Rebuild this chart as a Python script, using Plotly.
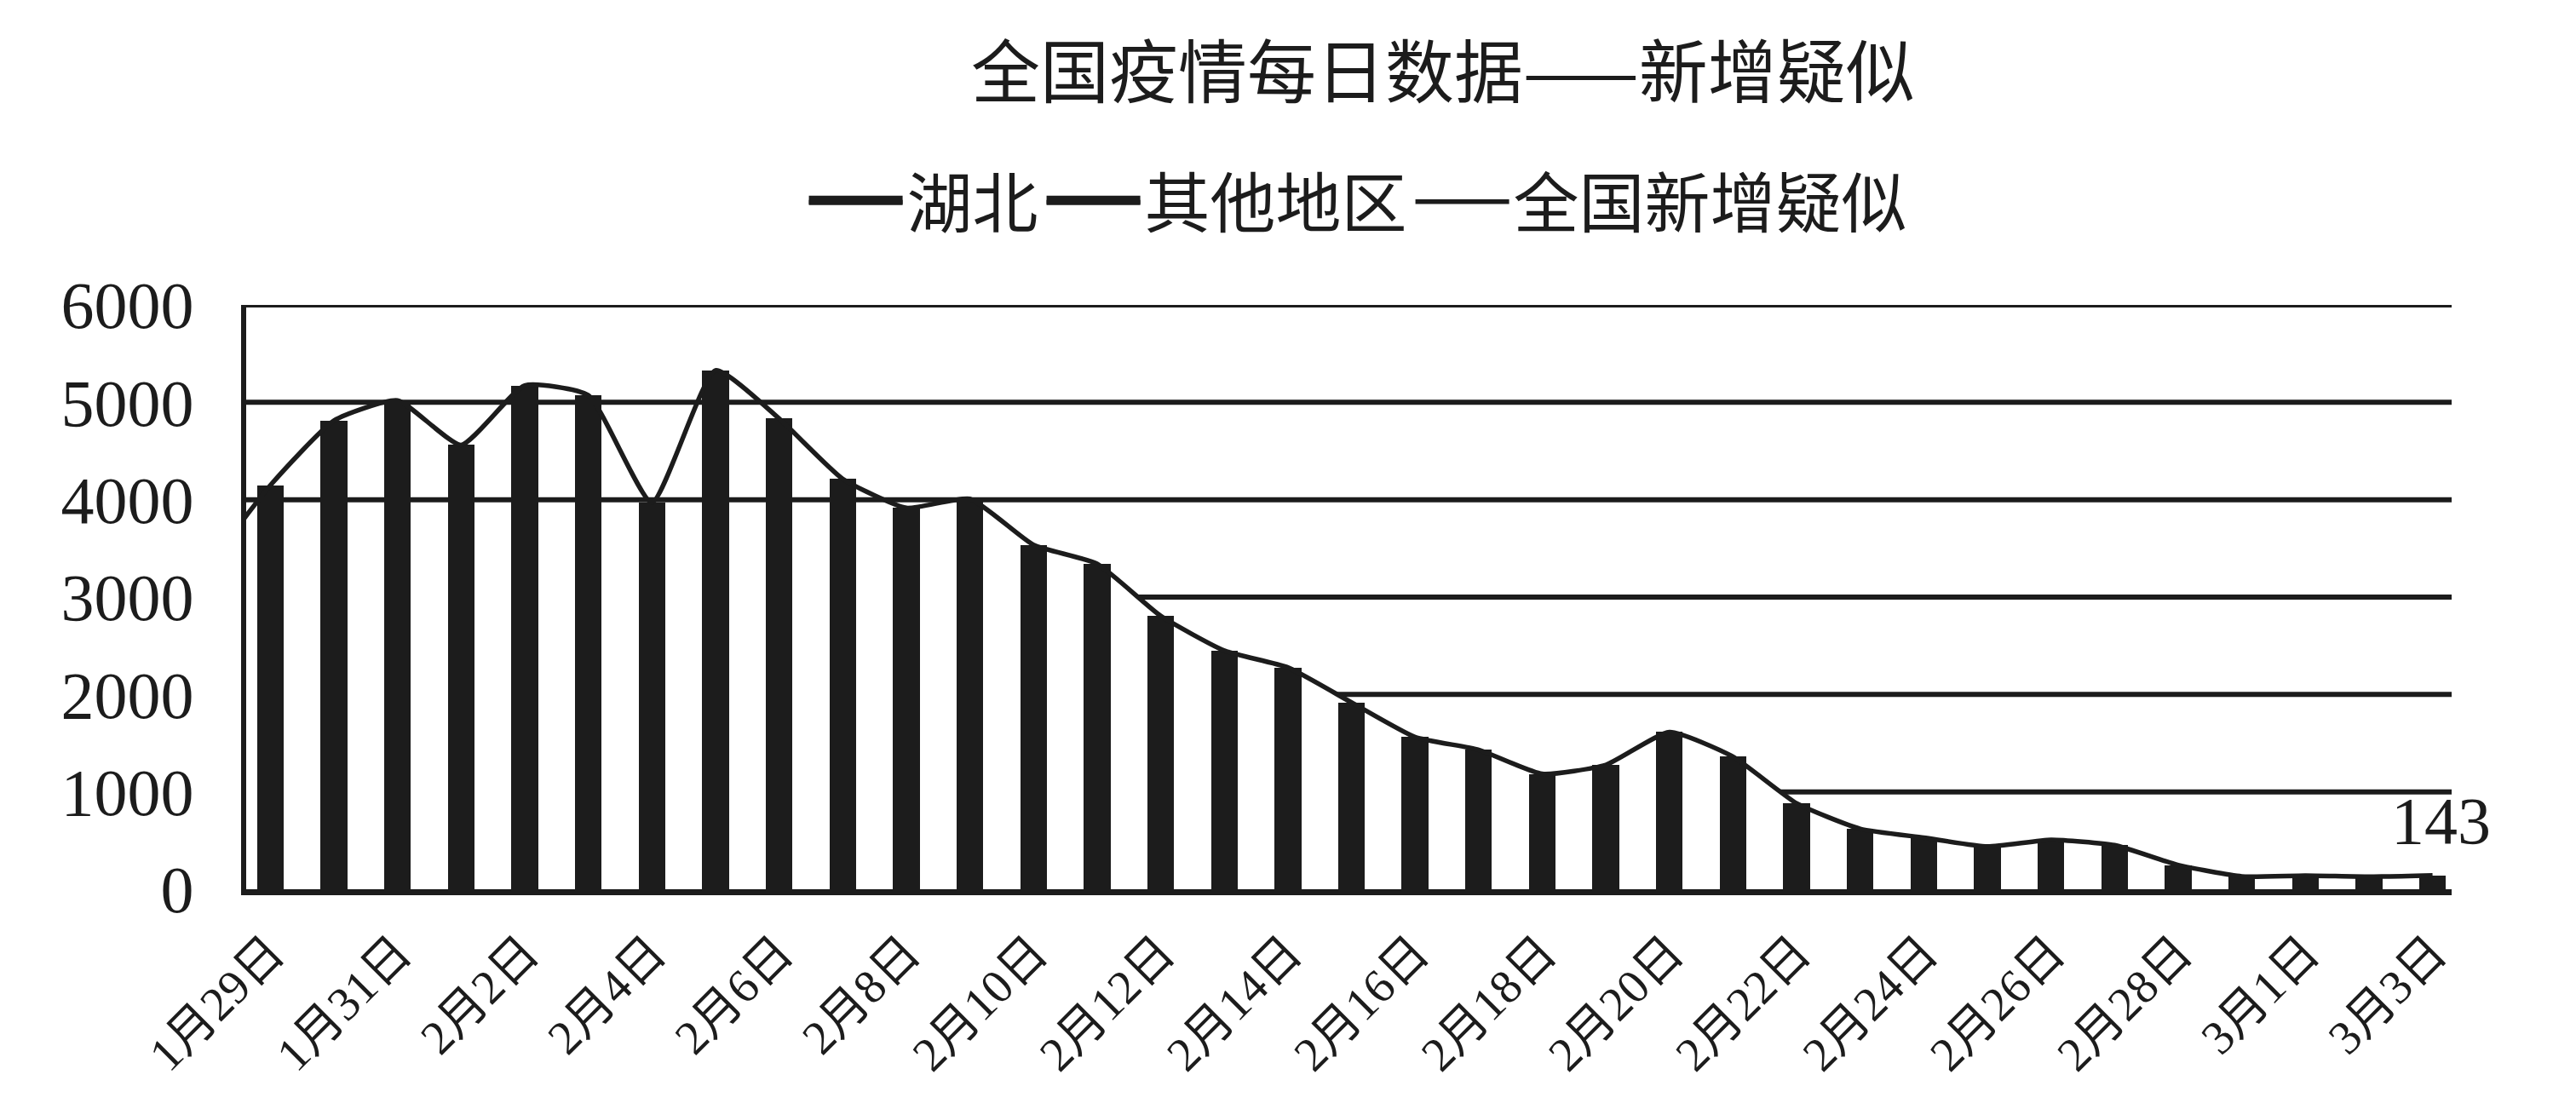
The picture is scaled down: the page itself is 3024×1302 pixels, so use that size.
import plotly.graph_objects as go

# ---------------- data ----------------
days = ["1月29日", "1月30日", "1月31日", "2月1日", "2月2日", "2月3日", "2月4日", "2月5日",
        "2月6日", "2月7日", "2月8日", "2月9日", "2月10日", "2月11日", "2月12日", "2月13日",
        "2月14日", "2月15日", "2月16日", "2月17日", "2月18日", "2月19日", "2月20日", "2月21日",
        "2月22日", "2月23日", "2月24日", "2月25日", "2月26日", "2月27日", "2月28日", "2月29日",
        "3月1日", "3月2日", "3月3日"]

tick_labels = ["1月29日", "1月31日", "2月2日", "2月4日", "2月6日", "2月8日", "2月10日",
               "2月12日", "2月14日", "2月16日", "2月18日", "2月20日", "2月22日", "2月24日",
               "2月26日", "2月28日", "3月1日", "3月3日"]

total = [4148, 4812, 5019, 4562, 5173, 5072, 3971, 5328, 4833, 4214, 3916, 4008, 3536, 3342,
         2807, 2450, 2277, 1918, 1563, 1432, 1185, 1277, 1614, 1361, 882, 620, 530, 439, 508,
         452, 248, 132, 141, 129, 143]

hubei = [2100, 2450, 2650, 2350, 2900, 2850, 2200, 3150, 2850, 2500, 2400, 2600, 2300, 2250,
         1900, 1700, 1650, 1400, 1150, 1050, 900, 1000, 1300, 1100, 700, 500, 430, 350, 420,
         380, 200, 100, 110, 100, 115]

others = [2048, 2362, 2369, 2212, 2273, 2222, 1771, 2178, 1983, 1714, 1516, 1408, 1236, 1092,
          907, 750, 627, 518, 413, 382, 285, 277, 314, 261, 182, 120, 100, 89, 88, 72, 48, 32,
          31, 29, 28]

# value of the day before the first category (line enters from the left edge)
prev_day_total = 3300

y_ticks = [0, 1000, 2000, 3000, 4000, 5000, 6000]
grid_below = [1000, 2000, 3000]
grid_above = [4000, 5000, 6000]

# ---------------- build ----------------
x_idx = list(range(len(days)))
line_x = [-1] + x_idx
line_y = [prev_day_total] + total
tickvals = [days.index(t) for t in tick_labels]
x_range = [-0.38, 34.3]

INK = "#1c1c1c"
SERIF = "Liberation Serif, Noto Sans CJK SC, serif"
SANS = "Noto Sans CJK SC, sans-serif"

fig = go.Figure()

# white area under the curve (hides the lower grid lines), on the base axes
fig.add_trace(go.Scatter(
    x=line_x, y=line_y, mode="lines", line=dict(width=0, shape="spline", smoothing=0.5),
    fill="tozeroy", fillcolor="white", showlegend=False, hoverinfo="skip",
    xaxis="x", yaxis="y"))

# stacked bars on the overlay axes
fig.add_trace(go.Bar(x=x_idx, y=hubei, name="湖北", marker=dict(color=INK, line=dict(width=0)),
                     width=0.42, showlegend=False, xaxis="x2", yaxis="y2"))
fig.add_trace(go.Bar(x=x_idx, y=others, name="其他地区", marker=dict(color=INK, line=dict(width=0)),
                     width=0.42, showlegend=False, xaxis="x2", yaxis="y2"))

# legend stand-ins (thick bar-like line symbols)
for nm in ["湖北", "其他地区"]:
    fig.add_trace(go.Scatter(x=[None], y=[None], mode="lines", name=nm,
                             line=dict(color=INK, width=10), fill="toself", fillcolor=INK,
                             xaxis="x2", yaxis="y2"))

# national total line
fig.add_trace(go.Scatter(
    x=line_x, y=line_y, mode="lines", name="全国新增疑似",
    line=dict(color=INK, width=5.5, shape="spline", smoothing=0.5),
    xaxis="x2", yaxis="y2"))

shapes = []
for v in grid_below:
    shapes.append(dict(type="line", xref="x", yref="y", x0=x_range[0], x1=x_range[1], y0=v, y1=v,
                       line=dict(color=INK, width=6), layer="below"))
for v in grid_above:
    shapes.append(dict(type="line", xref="x", yref="y", x0=x_range[0], x1=x_range[1], y0=v, y1=v,
                       line=dict(color=INK, width=6), layer="above"))

fig.update_layout(
    width=3024, height=1302,
    paper_bgcolor="white", plot_bgcolor="white",
    margin=dict(l=281, r=154, t=350, b=266),
    barmode="stack",
    title=dict(text="全国疫情每日数据——新增疑似", x=0.5755 - 0.018, xanchor="center",
               y=0.94, yanchor="middle", font=dict(family=SANS, size=81, color=INK)),
    legend=dict(orientation="h", xref="container", yref="container", x=0.5245, xanchor="center",
                y=0.824, yanchor="middle", font=dict(family=SANS, size=77, color=INK),
                itemwidth=110, bgcolor="rgba(0,0,0,0)", traceorder="normal"),
    xaxis=dict(range=x_range, tickmode="array", tickvals=tickvals, ticktext=tick_labels,
               tickangle=-45, tickfont=dict(family=SERIF, size=56, color=INK),
               showgrid=False, zeroline=False, showline=True, linecolor=INK, linewidth=7,
               ticks="", ticklabelstandoff=12),
    yaxis=dict(range=[0, 6000], tickmode="array", tickvals=y_ticks,
               tickfont=dict(family=SERIF, size=78, color=INK),
               showgrid=False, zeroline=False, showline=True, linecolor=INK, linewidth=6,
               ticks="", ticklabelstandoff=40),
    xaxis2=dict(overlaying="x", matches="x", visible=False),
    yaxis2=dict(overlaying="y", matches="y", visible=False),
    shapes=shapes,
    annotations=[dict(x=x_idx[-1], y=total[-1], xref="x2", yref="y2", text=str(total[-1]),
                      showarrow=False, yshift=64, xshift=10,
                      font=dict(family=SERIF, size=78, color=INK))],
)

fig.write_html("out.html")
